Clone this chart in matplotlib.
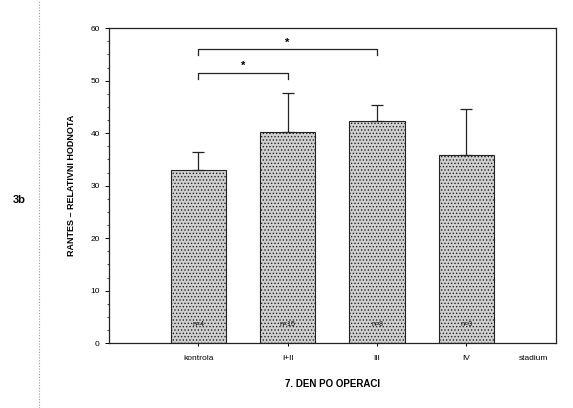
import numpy as np
import matplotlib.pyplot as plt

plt.rcParams['font.family'] = ['Liberation Sans', 'DejaVu Sans']
plt.rcParams['hatch.color'] = '#7a7a7a'
plt.rcParams['hatch.linewidth'] = 0.6

# data
groups = ['kontrola', 'I+II', 'III', 'IV']
means = [32.9, 40.3, 42.3, 35.8]
errs = [3.5, 7.4, 3.0, 8.8]
n_labels = ['n=4', 'n=15', 'n=8', 'n=3']
# significance brackets: (from index, to index, height)
brackets = [(0, 1, 51.5), (0, 2, 56.0)]

fig = plt.figure(figsize=(5.73, 4.08), dpi=100)
ax = fig.add_axes([0.190, 0.159, 0.780, 0.772])

x = np.arange(1, len(groups) + 1)
ax.bar(x, means, width=0.62, color='#d0d0d0', edgecolor='#222222',
       linewidth=0.8, hatch='.....')
ax.errorbar(x, means, yerr=[np.zeros(len(errs)), errs], fmt='none',
            ecolor='#222222', elinewidth=0.9, capsize=4, capthick=0.9)

for xi, lab in zip(x, n_labels):
    ax.text(xi, 3.5, lab, ha='center', va='center', fontsize=5, color='#111111')

for i0, i1, h in brackets:
    ax.plot([x[i0], x[i0], x[i1], x[i1]], [h - 1.2, h, h, h - 1.2],
            color='#222222', linewidth=0.9)
    ax.text((x[i0] + x[i1]) / 2, h + 0.3, '*', ha='center', va='bottom',
            fontsize=8, fontweight='bold')

ax.set_xlim(0, 5)
ax.set_ylim(0, 60)
ax.set_yticks(np.arange(0, 61, 10))
ax.set_yticks(np.arange(0, 61, 2.5), minor=True)
ax.set_xticks(x)
ax.set_xticklabels(groups, fontsize=6)
ax.tick_params(axis='y', labelsize=6, length=3, width=0.7, direction='out')
ax.tick_params(axis='y', which='minor', length=1.5, width=0.5)
ax.tick_params(axis='x', length=2.5, width=0.7, direction='out', pad=6)
ax.annotate('stadium', xy=(4.75, 0), xycoords=('data', 'axes fraction'),
            xytext=(0, -8.5), textcoords='offset points',
            ha='center', va='top', fontsize=6)

for s in ax.spines.values():
    s.set_linewidth(0.9)
    s.set_color('#222222')

ax.set_ylabel('RANTES \u2013 RELATIVNI HODNOTA', fontsize=6.5, fontweight='bold', labelpad=10)
ax.set_xlabel('7. DEN PO OPERACI', fontsize=7, fontweight='bold', labelpad=12)

fig.text(0.023, 0.51, '3b', fontsize=8, fontweight='bold', ha='left', va='center')
fig.add_artist(plt.Line2D([0.068, 0.068], [0.0, 1.0], transform=fig.transFigure,
                          color='#999999', linewidth=0.8, linestyle=(0, (1, 1.5))))

fig.savefig('out.png', dpi=100)
